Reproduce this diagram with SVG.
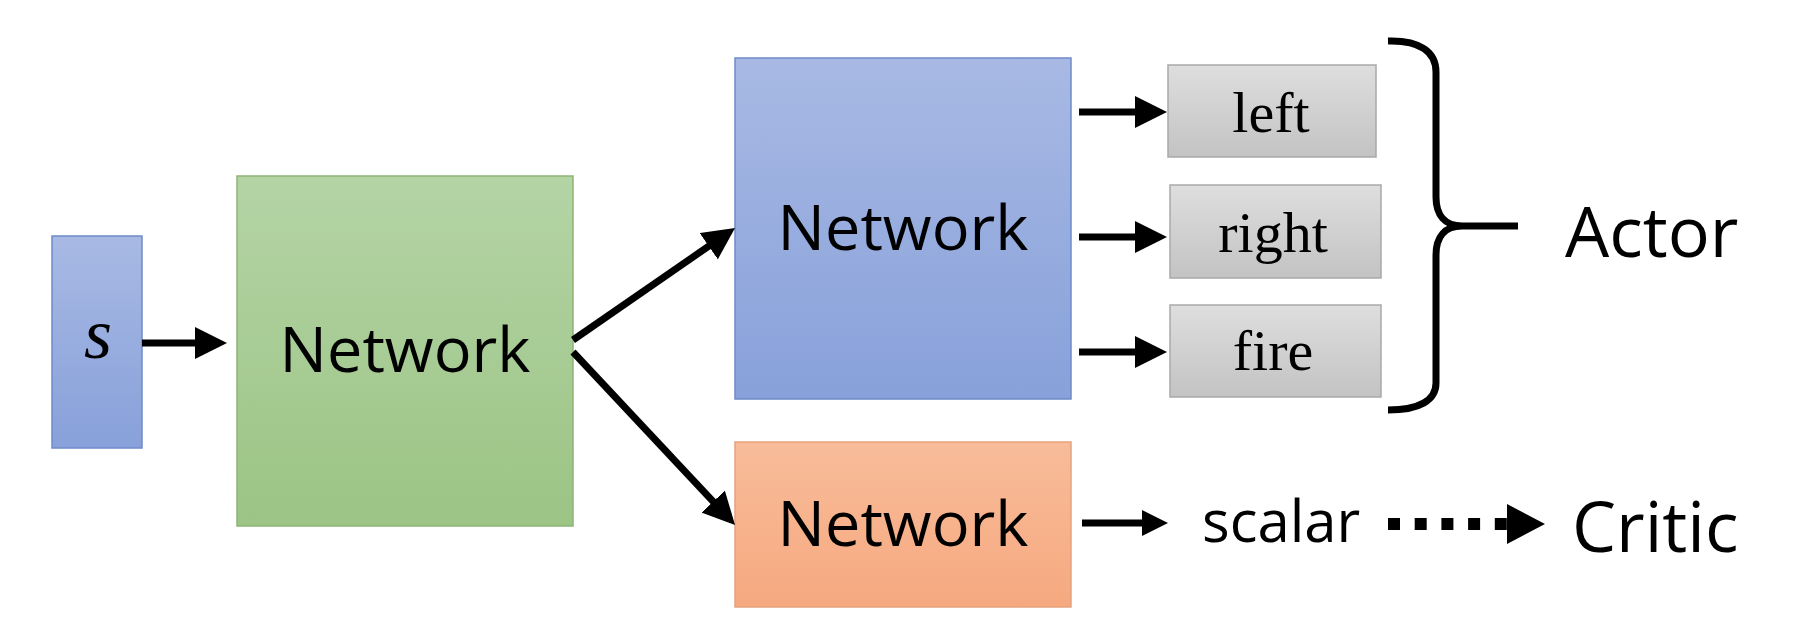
<svg xmlns="http://www.w3.org/2000/svg" width="1810" height="642" viewBox="0 0 1810 642">
  <defs>
    <linearGradient id="gBlue" x1="0" y1="0" x2="0" y2="1">
      <stop offset="0" stop-color="#a8b9e4"/>
      <stop offset="1" stop-color="#88a1da"/>
    </linearGradient>
    <linearGradient id="gGreen" x1="0" y1="0" x2="0" y2="1">
      <stop offset="0" stop-color="#b4d4a5"/>
      <stop offset="1" stop-color="#9cc485"/>
    </linearGradient>
    <linearGradient id="gOrange" x1="0" y1="0" x2="0" y2="1">
      <stop offset="0" stop-color="#f8bc9a"/>
      <stop offset="1" stop-color="#f6a97f"/>
    </linearGradient>
    <linearGradient id="gGray" x1="0" y1="0" x2="0" y2="1">
      <stop offset="0" stop-color="#dedede"/>
      <stop offset="1" stop-color="#c3c3c3"/>
    </linearGradient>
    <marker id="ah" markerUnits="userSpaceOnUse" viewBox="0 0 32 32" markerWidth="32" markerHeight="32" refX="17" refY="16" orient="auto">
      <path d="M0,0 L32,16 L0,32 Z" fill="#000"/>
    </marker>
    <marker id="ahs" markerUnits="userSpaceOnUse" viewBox="0 0 26 26" markerWidth="26" markerHeight="26" refX="12" refY="13" orient="auto">
      <path d="M0,0 L26,13 L0,26 Z" fill="#000"/>
    </marker>
    <marker id="ahd" markerUnits="userSpaceOnUse" viewBox="0 0 38 40" markerWidth="38" markerHeight="40" refX="0" refY="20" orient="auto">
      <path d="M0,0 L38,20 L0,40 Z" fill="#000"/>
    </marker>
  </defs>
  <style>
    .box { stroke-width: 1.5; }
    .sans { font-family: "Open Sans", "Liberation Sans", sans-serif; fill: #000; }
    .serif { font-family: "Liberation Serif", "DejaVu Serif", serif; fill: #000; }
    .net { font-size: 63px; text-anchor: middle; }
    .act { font-size: 58px; text-anchor: middle; }
    .big { font-size: 70px; }
    .conn { stroke: #000; stroke-width: 7; fill: none; }
  </style>
  <rect width="1810" height="642" fill="#ffffff"/>

  <g id="node-s">
    <rect class="box" x="52" y="236" width="90" height="212" fill="url(#gBlue)" stroke="#6f8bc9"/>
    <text class="serif" x="98" y="358" font-size="72" font-style="italic" text-anchor="middle" fill="#1b2a4e">s</text>
  </g>

  <g id="node-shared">
    <rect class="box" x="237" y="176" width="336" height="350" fill="url(#gGreen)" stroke="#8db574"/>
    <text class="sans net" x="405" y="372">Network</text>
  </g>

  <g id="node-actor-net">
    <rect class="box" x="735" y="58" width="336" height="341" fill="url(#gBlue)" stroke="#6f8bc9"/>
    <text class="sans net" x="903" y="250">Network</text>
  </g>

  <g id="node-critic-net">
    <rect class="box" x="735" y="442" width="336" height="165" fill="url(#gOrange)" stroke="#e5a27f"/>
    <text class="sans net" x="903" y="546">Network</text>
  </g>

  <g id="node-left">
    <rect class="box" x="1168" y="65" width="208" height="92" fill="url(#gGray)" stroke="#a9a9a9"/>
    <text class="serif act" x="1271" y="132">left</text>
  </g>

  <g id="node-right">
    <rect class="box" x="1170" y="185" width="211" height="93" fill="url(#gGray)" stroke="#a9a9a9"/>
    <text class="serif act" x="1273" y="252">right</text>
  </g>

  <g id="node-fire">
    <rect class="box" x="1170" y="305" width="211" height="92" fill="url(#gGray)" stroke="#a9a9a9"/>
    <text class="serif act" x="1273" y="370">fire</text>
  </g>

  <g id="node-actor-label">
    <path class="conn" stroke-width="8" d="M1388 41 C1420 40 1436 52 1436 72 L1436 197 C1436 215 1445 226 1462 226 L1518 226 M1462 226 C1445 226 1436 237 1436 255 L1436 383 C1436 400 1420 410 1388 410"/>
    <text class="sans big" x="1565" y="257">Actor</text>
  </g>

  <g id="node-scalar">
    <text class="sans" x="1202" y="542" font-size="58">scalar</text>
  </g>

  <g id="node-critic-label">
    <text class="sans big" x="1572" y="552">Critic</text>
  </g>

  <g id="connectors">
    <line class="conn" x1="142" y1="343" x2="212" y2="343" marker-end="url(#ah)"/>
    <line class="conn" x1="573" y1="340" x2="722.7" y2="236.5" marker-end="url(#ah)"/>
    <line class="conn" x1="573" y1="352" x2="724.8" y2="514" marker-end="url(#ah)"/>
    <line class="conn" x1="1079" y1="112" x2="1152" y2="112" marker-end="url(#ah)"/>
    <line class="conn" x1="1079" y1="237" x2="1152" y2="237" marker-end="url(#ah)"/>
    <line class="conn" x1="1079" y1="352" x2="1152" y2="352" marker-end="url(#ah)"/>
    <line class="conn" x1="1082" y1="523" x2="1154" y2="523" marker-end="url(#ahs)"/>
    <line x1="1388" y1="524" x2="1507" y2="524" stroke="#000" stroke-width="12" stroke-dasharray="12 14.7" marker-end="url(#ahd)"/>
  </g>
</svg>
